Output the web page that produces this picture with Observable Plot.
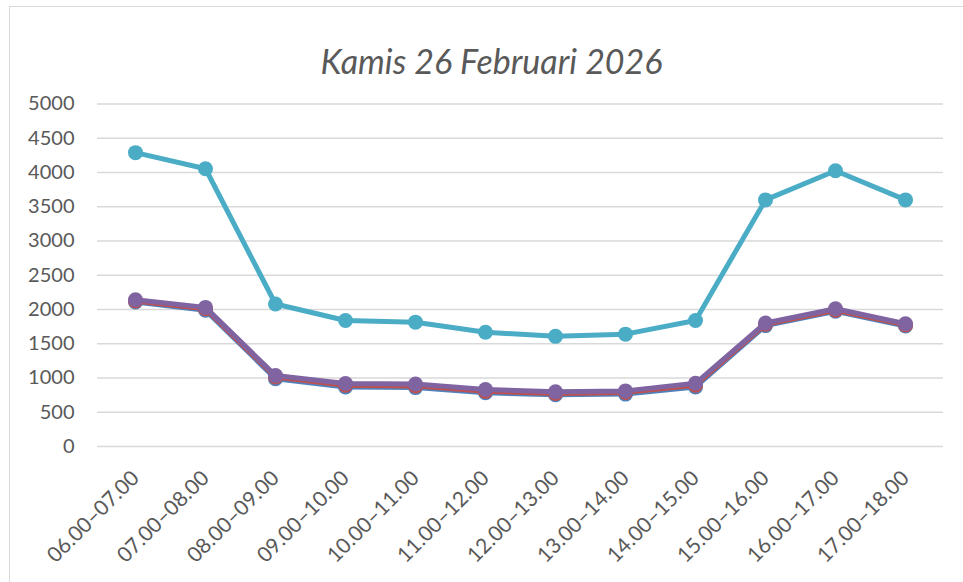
<!DOCTYPE html>
<html><head><meta charset="utf-8">
<script src="https://cdn.jsdelivr.net/npm/d3@7"></script>
<script src="https://cdn.jsdelivr.net/npm/@observablehq/plot@0.6"></script>
<style>
body{margin:0;background:#fff;overflow:hidden;width:963px;height:582px;position:relative}
#frame{position:absolute;left:9px;top:6px;width:1000px;height:700px;border:1.5px solid #d9d9d9;box-sizing:border-box}
#chart{position:absolute;left:0;top:0}
</style></head><body><div id="frame"></div><div id="chart"></div>
<script>
const title = "Kamis 26 Februari 2026";
const hours = ["06.00–07.00","07.00–08.00","08.00–09.00","09.00–10.00","10.00–11.00","11.00–12.00","12.00–13.00","13.00–14.00","14.00–15.00","15.00–16.00","16.00–17.00","17.00–18.00"];
const seriesNames = ["Seri 1","Seri 2","Seri 3","Total"];
const seriesColors = ["#4F81BD","#C0504D","#8064A2","#4BACC6"];
const blueValues   = [2110, 1990, 990, 870, 860, 785, 755, 765, 870, 1765, 1975, 1760];
const redValues    = [2125, 2010, 1015, 895, 885, 805, 775, 790, 895, 1785, 1990, 1775];
const purpleValues = [2143, 2031, 1035, 920, 912, 833, 800, 812, 923, 1803, 2010, 1793];
const tealValues   = [4290, 4055, 2080, 1840, 1815, 1668, 1608, 1640, 1840, 3600, 4025, 3600];
const yTicks = d3.range(0, 5001, 500);

const allValues = [blueValues, redValues, purpleValues, tealValues];
const data = allValues.flatMap((vals, s) => hours.map((h, i) => ({series: seriesNames[s], hour: h, value: vals[i]})));

const seriesMarks = seriesNames.flatMap(name => {
  const d = data.filter(r => r.series === name);
  return [
    Plot.line(d, {x: "hour", y: "value", stroke: "series", strokeWidth: 5, strokeLinejoin: "round"}),
    Plot.dot(d, {x: "hour", y: "value", fill: "series", r: 7.5})
  ];
});

const chart = Plot.plot({
  width: 963, height: 582,
  marginLeft: 97, marginRight: 20, marginTop: 103.5, marginBottom: 136,
  style: {fontFamily: "Lato, sans-serif", background: "transparent"},
  x: {type: "point", domain: hours, padding: 0.5},
  y: {domain: [0, 5000]},
  color: {domain: seriesNames, range: seriesColors},
  marks: [
    Plot.ruleY(yTicks, {stroke: "#d9d9d9", strokeWidth: 1.5}),
    Plot.axisY({ticks: yTicks, tickSize: 0, tickPadding: 23, fontSize: 20, fill: "#595959", label: null, tickFormat: d => String(d)}),
    Plot.axisX({tickSize: 0, tickRotate: -45, tickPadding: 28, fontSize: 21, fill: "#595959", label: null}),
    ...seriesMarks,
    Plot.text([title], {frameAnchor: "top", dx: -29, dy: -54.5, fontSize: 34, fontStyle: "italic", fill: "#595959", letterSpacing: 0.8})
  ]
});
document.getElementById("chart").appendChild(chart);
</script></body></html>
